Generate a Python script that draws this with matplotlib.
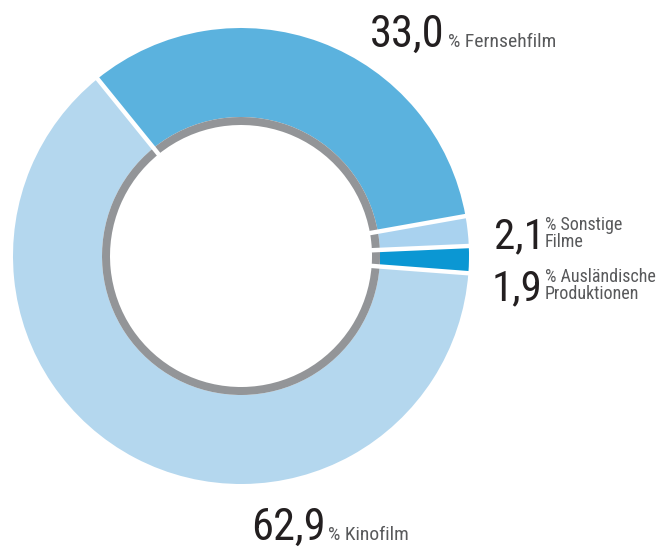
import numpy as np
import matplotlib
matplotlib.use("Agg")
import matplotlib.pyplot as plt

# ---- data ----
categories = ["Fernsehfilm", "Sonstige Filme", "Ausländische Produktionen", "Kinofilm"]
values = [33.0, 2.1, 1.9, 62.9]
value_labels = ["33,0", "2,1", "1,9", "62,9"]
desc_labels = ["% Fernsehfilm", "% Sonstige\nFilme", "% Ausländische\nProduktionen", "% Kinofilm"]
colors = ["#5bb2de", "#a9d2ef", "#0b97d3", "#b4d7ee"]

FONT = ["Roboto Condensed", "Archivo Narrow", "DejaVu Sans"]
W, H = 667, 548
fig = plt.figure(figsize=(W / 100, H / 100), dpi=100)
ax = fig.add_axes([0, 0, 1, 1])

cx, cy = 241, H - 256
R_out, R_ring, R_in = 228, 139, 131

wedges, _ = ax.pie(values, radius=R_out, center=(cx, cy), colors=colors,
                   startangle=129, counterclock=False,
                   wedgeprops=dict(width=R_out - R_ring, linewidth=0))
ax.pie(values, radius=R_ring, center=(cx, cy), colors=["#939598"] * len(values),
       startangle=129, counterclock=False,
       wedgeprops=dict(width=R_ring - R_in, linewidth=0))

# white gaps between segments
for w in wedges:
    a = np.deg2rad(w.theta1)
    r = np.array([R_in - 5, R_out + 5])
    ax.plot(cx + r * np.cos(a), cy + r * np.sin(a), color="white", lw=3.2,
            solid_capstyle="butt", zorder=5)

ax.set_xlim(0, W)
ax.set_ylim(0, H)
ax.set_aspect("equal")
ax.axis("off")

num_col = "#231f20"
txt_col = "#58595b"

def Y(p):
    return H - p

def label(xn, yn, num, xt, yt, desc, nsize, tsize):
    ax.text(xn, Y(yn), num, fontsize=nsize, color=num_col, family=FONT,
            va="baseline", ha="left")
    ax.text(xt, Y(yt), desc, fontsize=tsize, color=txt_col, family=FONT,
            va="baseline", ha="left", linespacing=0.9)

label(370, 47, value_labels[0], 448, 47, desc_labels[0], 32, 14)
label(494, 248, value_labels[1], 545, 247, desc_labels[1], 31, 13)
label(492, 300, value_labels[2], 545, 299, desc_labels[2], 31, 13)
label(251, 540, value_labels[3], 328, 540, desc_labels[3], 32, 14)

fig.savefig("out.png", dpi=100, facecolor="white")
